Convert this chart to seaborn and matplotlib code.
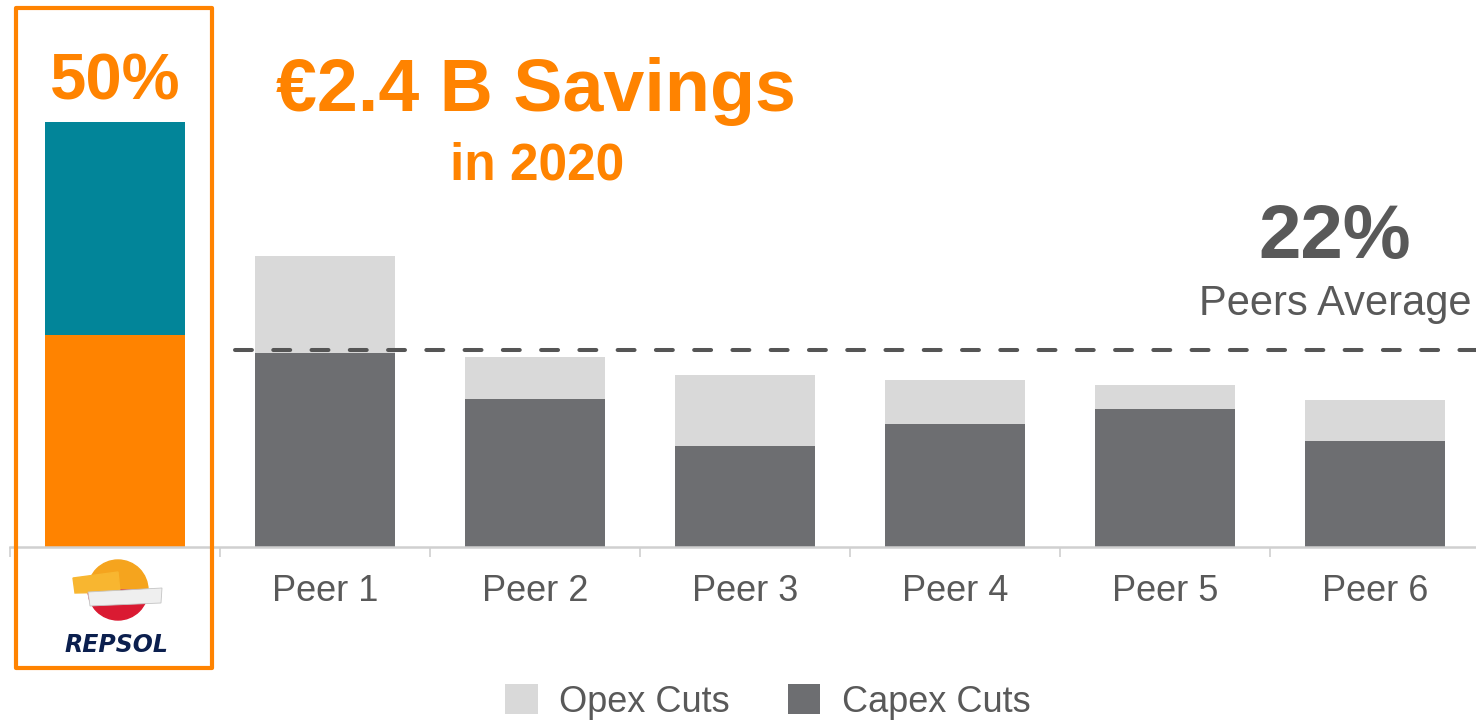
import warnings
warnings.filterwarnings("ignore")

import numpy as np
import pandas as pd
import matplotlib
matplotlib.use("Agg")
import matplotlib.pyplot as plt
from matplotlib.patches import Rectangle, Wedge, Patch, Polygon
import seaborn as sns

# data (percent of spend cut)
categories = ["Repsol", "Peer 1", "Peer 2", "Peer 3", "Peer 4", "Peer 5", "Peer 6"]
tick_labels = ["", "Peer 1", "Peer 2", "Peer 3", "Peer 4", "Peer 5", "Peer 6"]
repsol_lower = 24.9
repsol_upper = 25.1
peer_capex = [22.8, 17.4, 11.9, 14.5, 16.2, 12.5]
peer_opex = [11.4, 5.0, 8.3, 5.1, 2.9, 4.8]
peers_avg_line = 23.2
peers_avg_label = "22%"
repsol_label = "50%"

ORANGE = "#FF8300"
TEAL = "#028599"
OPEX = "#D9D9D9"
CAPEX = "#6D6E71"
TXT = "#595959"

sns.set_theme(style="white")
plt.rcParams["font.family"] = ["Liberation Sans", "DejaVu Sans"]

W, H = 1476, 722
fig = plt.figure(figsize=(W / 100, H / 100), dpi=100)

# axes placed so the baseline sits at px 547 and the categories span 10..1480
ax = fig.add_axes([10 / W, 175 / H, 1470 / W, 510 / H])

lower = [repsol_lower] + peer_capex
totals = [repsol_lower + repsol_upper] + [c + o for c, o in zip(peer_capex, peer_opex)]
df = pd.DataFrame({"cat": categories, "lower": lower, "total": totals})

top_colors = [TEAL] + [OPEX] * 6
low_colors = [ORANGE] + [CAPEX] * 6
sns.barplot(data=df, x="cat", y="total", hue="cat", palette=top_colors,
            saturation=1, width=0.667, legend=False, ax=ax, linewidth=0)
sns.barplot(data=df, x="cat", y="lower", hue="cat", palette=low_colors,
            saturation=1, width=0.667, legend=False, ax=ax, linewidth=0)

ax.set_xlim(-0.5, 6.5)
ax.set_ylim(0, 60)
ax.set_xlabel("")
ax.set_ylabel("")
ax.set_yticks([])
ax.set_xticks(range(7))
ax.set_xticklabels(tick_labels, fontsize=26, color=TXT)
ax.set_xticks(np.arange(-0.5, 7, 1), minor=True)
ax.tick_params(axis="x", which="major", length=0, pad=19.5)
ax.tick_params(axis="x", which="minor", length=7.5, width=1.2, color="#D0D0D0", bottom=True)
for s in ["top", "left", "right"]:
    ax.spines[s].set_visible(False)
ax.spines["bottom"].set_color("#D0D0D0")
ax.spines["bottom"].set_linewidth(1.8)

# peers average dashed line
ax.plot([0.57, 6.5], [peers_avg_line, peers_avg_line], color="#555555", lw=2.9,
        linestyle=(0, (4.2, 5.3)), dash_capstyle="round", clip_on=False)

# texts
narrow = ["Liberation Sans Narrow", "Liberation Sans", "DejaVu Sans"]
fig.text(536 / W, 1 - 111 / H, "€2.4 B Savings", ha="center", va="baseline",
         fontsize=53, fontweight="bold", color=ORANGE, family=narrow)
fig.text(537 / W, 1 - 180 / H, "in 2020", ha="center", va="baseline",
         fontsize=37, fontweight="bold", color=ORANGE, family=narrow)
fig.text(115 / W, 1 - 99 / H, repsol_label, ha="center", va="baseline",
         fontsize=47, fontweight="bold", color=ORANGE, family=narrow)
fig.text(1335 / W, 1 - 258 / H, peers_avg_label, ha="center", va="baseline",
         fontsize=55, fontweight="bold", color=TXT)
fig.text(1335 / W, 1 - 315 / H, "Peers Average", ha="center", va="baseline",
         fontsize=30, color=TXT)

# orange frame around Repsol
fig.patches.append(Rectangle((16 / W, 1 - 668 / H), 196 / W, 660 / H,
                             transform=fig.transFigure, fill=False,
                             edgecolor=ORANGE, lw=3, joinstyle="round"))

# Repsol logo (simplified)
lax = fig.add_axes([55 / W, 1 - 660 / H, 120 / W, 105 / H])
lax.set_xlim(55, 175)
lax.set_ylim(660, 555)
lax.axis("off")
lax.add_patch(Wedge((118, 590), 30, 180, 360, color="#F5A41E"))
lax.add_patch(Wedge((118, 590), 30, 0, 180, color="#DA1A32"))
lax.add_patch(Polygon([[73, 578], [118, 572], [120, 592], [75, 593]], closed=True,
                      color="#F8B630"))
lax.add_patch(Polygon([[88, 592], [162, 588], [161, 603], [90, 606]], closed=True,
                      facecolor="#EFEFEF", edgecolor="#C4C4C4", lw=0.6))
lax.text(116, 652, "REPSOL", ha="center", va="baseline", fontsize=17,
         fontweight="bold", style="italic", color="#0B1F4E", family="DejaVu Sans")

# legend
handles = [Patch(facecolor=OPEX, edgecolor="none", label="Opex Cuts"),
           Patch(facecolor=CAPEX, edgecolor="none", label="Capex Cuts")]
leg = fig.legend(handles=handles, loc="center", bbox_to_anchor=(768 / W, 1 - 702 / H),
                 ncol=2, frameon=False, fontsize=26, handlelength=0.9, handleheight=0.9,
                 handletextpad=0.6, columnspacing=1.6)
for t in leg.get_texts():
    t.set_color(TXT)

fig.savefig("out.png", dpi=100)
